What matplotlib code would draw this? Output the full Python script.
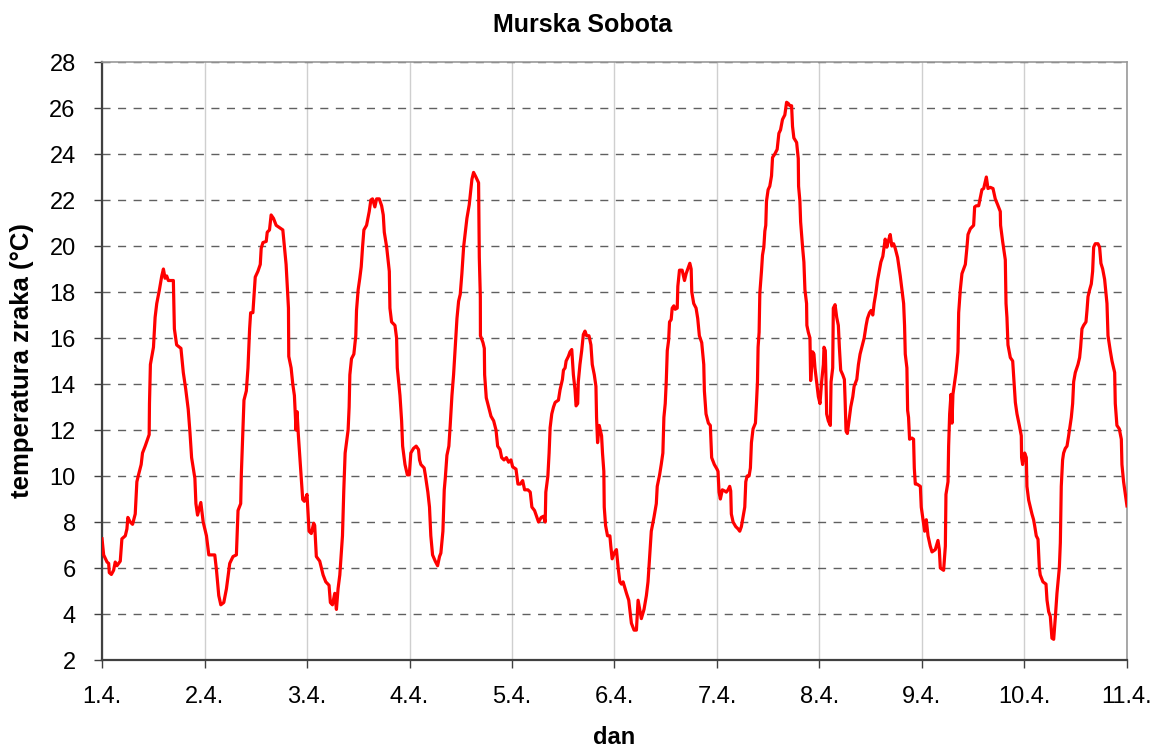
import matplotlib
matplotlib.use("Agg")
import matplotlib.pyplot as plt

# time in days since 1.4. 00:00, temperature in degC
days = [
 0.000,0.016,0.049,0.065,0.071,0.091,0.113,0.129,0.146,0.178,0.194,0.227,0.243,0.252,0.275,0.298,0.324,0.340,0.356,0.382,
 0.395,0.421,0.460,0.463,0.472,0.502,0.518,0.534,0.560,0.583,0.599,0.615,0.631,0.647,0.673,0.696,0.706,0.728,0.770,0.793,
 0.816,0.841,0.858,0.874,0.906,0.916,0.932,0.964,0.987,1.019,1.042,1.068,1.100,1.117,1.139,1.159,1.188,1.214,1.246,1.278,
 1.311,1.327,1.353,1.359,1.375,1.385,1.408,1.424,1.440,1.450,1.472,1.495,1.521,1.544,1.553,1.570,1.602,1.612,1.634,1.650,
 1.673,1.699,1.731,1.764,1.780,1.796,1.819,1.822,1.845,1.861,1.877,1.893,1.903,1.916,1.942,1.958,1.974,2.000,
 2.020,2.042,2.065,2.075,2.091,2.124,2.157,2.183,2.215,2.228,2.248,2.271,2.287,2.303,2.320,2.346,2.359,2.372,2.401,2.411,
 2.418,2.434,2.457,2.476,2.483,2.499,2.515,2.529,2.542,2.555,2.581,2.607,2.623,2.639,2.662,2.679,2.705,2.728,2.744,2.754,
 2.777,2.803,2.809,2.825,2.858,2.874,2.881,2.907,2.923,2.933,2.956,2.979,2.998,3.013,3.039,3.065,3.088,3.098,3.111,3.143,
 3.156,3.179,3.195,3.208,3.225,3.251,3.274,3.293,3.306,3.326,3.339,3.349,3.365,3.384,3.397,3.414,3.430,3.446,3.463,3.479,
 3.495,3.511,3.528,3.544,3.560,3.583,3.599,3.609,3.625,3.648,3.674,3.681,3.691,3.692,3.717,3.730,3.733,3.749,3.772,3.795,
 3.821,3.844,3.860,3.883,3.899,3.922,3.945,3.967,3.990,
 4.006,4.039,4.058,4.081,4.104,4.123,4.155,4.178,4.194,4.220,4.243,4.259,4.285,4.307,4.324,4.330,4.350,4.362,4.372,4.388,
 4.405,4.421,4.453,4.469,4.492,4.502,4.518,4.528,4.550,4.566,4.583,4.599,4.615,4.625,4.641,4.647,4.663,4.680,4.696,4.712,
 4.728,4.751,4.770,4.783,4.803,4.819,4.825,4.835,4.851,4.874,4.883,4.896,4.900,4.913,4.932,4.955,4.964,4.977,5.003,5.019,
 5.036,5.052,5.068,5.084,5.117,5.139,5.165,5.191,5.214,5.230,5.246,5.262,5.288,5.311,5.327,5.343,5.359,5.385,5.408,5.417,
 5.440,5.456,5.472,5.482,5.495,5.505,5.515,5.528,5.537,5.553,5.563,5.579,5.592,5.612,5.618,5.634,5.660,5.683,5.699,5.715,
 5.735,5.748,5.754,5.773,5.796,5.812,5.828,5.851,5.871,5.877,5.893,5.916,5.935,5.948,5.974,6.000,
 6.010,6.020,6.033,6.052,6.075,6.091,6.108,6.124,6.134,6.140,6.157,6.183,6.206,6.222,6.238,6.254,6.271,6.281,6.294,6.313,
 6.326,6.336,6.352,6.375,6.385,6.395,6.401,6.411,6.418,6.434,6.444,6.457,6.467,6.476,6.483,6.499,6.515,6.532,6.542,6.564,
 6.587,6.604,6.620,6.639,6.662,6.679,6.695,6.711,6.728,6.737,6.750,6.777,6.793,6.796,6.809,6.816,6.835,6.848,6.858,6.874,
 6.877,6.891,6.907,6.910,6.914,6.933,6.946,6.956,6.972,6.989,7.005,7.021,7.038,7.044,7.057,7.064,7.070,7.086,7.106,7.113,
 7.129,7.135,7.152,7.168,7.184,7.194,7.207,7.227,7.243,7.250,7.259,7.272,7.292,7.305,7.325,7.338,7.364,7.380,7.396,7.413,
 7.436,7.455,7.468,7.488,7.504,7.520,7.533,7.550,7.566,7.586,7.599,7.618,7.641,7.657,7.674,7.690,7.706,7.723,7.739,7.762,
 7.788,7.804,7.821,7.830,7.837,7.853,7.860,7.869,7.879,7.902,7.918,7.925,7.935,7.951,7.984,7.993,8.007,
 8.026,8.042,8.059,8.081,8.098,8.130,8.156,8.169,8.179,8.211,8.228,8.234,8.254,8.260,8.270,8.283,8.293,8.302,8.319,8.332,
 8.351,8.358,8.374,8.390,8.423,8.439,8.449,8.472,8.504,8.514,8.530,8.553,8.569,8.585,8.602,8.618,8.628,8.644,8.667,8.693,
 8.715,8.738,8.764,8.767,8.787,8.813,8.820,8.829,8.839,8.862,8.885,8.894,8.911,8.927,8.950,8.969,8.972,8.982,9.002,9.018,
 9.024,9.041,9.057,9.073,9.089,9.099,9.115,9.132,9.145,9.154,9.180,9.210,9.220,9.236,9.252,9.268,9.285,9.301,9.317,9.340,
 9.350,9.359,9.372,9.382,9.398,9.415,9.431,9.457,9.470,9.480,9.496,9.522,9.538,9.548,9.561,9.577,9.600,9.610,9.620,9.636,
 9.652,9.665,9.675,9.691,9.717,9.733,9.746,9.763,9.782,9.795,9.805,9.815,9.837,9.854,9.880,9.886,9.902,9.925,9.945,9.951,
 9.967,10.000,
]
temps = [
 7.27,6.57,6.26,6.2,5.8,5.72,5.9,6.26,6.1,6.3,7.27,7.4,7.7,8.2,8.0,7.9,8.35,9.75,10.05,10.5,
 11.0,11.3,11.8,13.15,14.85,15.6,16.9,17.5,18.1,18.7,19.0,18.6,18.7,18.5,18.5,18.5,16.4,15.7,15.55,14.5,
 13.8,12.9,11.9,10.8,9.9,8.8,8.3,8.85,8.0,7.4,6.57,6.57,6.57,5.9,4.8,4.4,4.5,5.1,6.2,6.5,
 6.57,8.5,8.8,10.05,12.05,13.3,13.7,14.7,16.4,17.1,17.1,18.65,18.9,19.2,19.9,20.15,20.2,20.6,20.7,21.35,
 21.2,20.9,20.8,20.7,19.95,19.2,17.3,15.2,14.7,14.0,13.5,12.0,12.8,11.75,10.0,8.98,8.9,9.2,
 7.6,7.5,7.95,7.85,6.5,6.3,5.7,5.4,5.25,4.5,4.4,4.9,4.2,5.1,5.7,7.4,9.4,11.0,12.0,13.0,
 14.4,15.1,15.3,16.1,17.2,18.1,18.6,19.1,19.96,20.7,20.9,21.5,22.0,22.05,21.7,22.05,22.05,21.75,21.35,20.6,
 19.96,18.9,17.3,16.7,16.55,16.0,14.7,13.5,12.4,11.3,10.5,10.05,10.05,11.0,11.2,11.3,11.15,10.7,10.5,10.35,
 10.0,9.3,8.65,7.4,6.57,6.3,6.1,6.5,6.65,7.6,9.4,9.9,10.9,11.3,12.2,13.5,14.4,15.6,16.85,17.6,
 17.9,18.8,19.96,20.6,21.2,21.8,22.45,22.9,23.2,23.0,22.75,19.5,17.8,16.1,15.8,15.55,14.4,13.4,13.0,12.6,
 12.4,12.0,11.3,11.15,10.8,10.7,10.8,10.6,10.7,
 10.4,10.3,9.65,9.65,9.8,9.4,9.4,9.3,8.65,8.5,8.2,8.0,8.2,8.25,8.0,9.3,10.0,11.0,12.1,12.7,
 13.0,13.2,13.3,13.75,14.2,14.6,14.7,15.0,15.2,15.4,15.5,14.4,13.75,13.05,13.15,14.1,14.85,15.45,16.15,16.3,
 16.1,16.1,15.7,14.85,14.4,13.9,12.55,11.45,12.2,11.75,11.0,10.2,8.65,7.85,7.4,7.4,6.95,6.4,6.7,6.8,
 6.0,5.4,5.3,5.4,4.9,4.6,3.6,3.3,3.3,4.6,4.2,3.8,4.2,4.8,5.4,6.5,7.6,8.2,8.8,9.55,
 10.05,10.5,11.0,12.55,13.15,14.1,15.45,15.9,16.7,16.8,17.3,17.4,17.25,17.3,18.25,18.95,18.95,18.5,18.8,19.0,
 19.25,19.0,18.0,17.5,17.3,16.85,16.1,15.8,14.85,13.7,12.7,12.3,12.2,10.8,10.5,10.3,
 10.2,9.3,9.0,9.4,9.35,9.3,9.4,9.55,9.35,8.35,8.0,7.8,7.7,7.6,7.8,8.2,8.65,9.75,10.0,10.0,
 10.35,11.45,12.05,12.3,13.15,14.1,15.6,16.25,17.95,18.9,19.6,19.95,20.65,20.9,21.95,22.45,22.6,23.05,23.85,24.0,
 24.2,24.9,25.05,25.5,25.7,26.25,26.2,26.1,26.1,25.2,24.7,24.5,23.8,22.6,21.95,21.05,19.95,19.3,18.1,17.5,
 16.55,16.25,16.0,15.15,14.15,15.4,15.3,14.7,14.1,13.45,13.15,14.1,14.85,15.6,15.45,14.1,12.7,12.4,12.2,14.1,
 14.7,17.3,17.45,16.9,16.55,15.6,14.6,14.4,14.2,13.3,11.95,11.85,12.55,13.0,13.45,13.9,14.2,14.85,15.3,15.6,
 16.0,16.55,16.85,17.1,17.2,17.0,17.5,17.95,18.5,19.0,19.3,19.55,20.3,19.95,20.25,20.5,20.0,20.1,19.9,19.5,
 18.7,18.1,17.5,16.55,15.3,14.7,12.85,12.55,11.6,11.65,11.6,10.35,9.65,9.65,9.55,8.65,8.2,
 7.6,8.1,7.4,6.95,6.7,6.8,7.2,6.8,6.0,5.9,6.95,9.2,9.75,11.3,12.7,13.55,12.3,13.55,14.1,14.5,
 15.4,17.1,18.1,18.8,19.2,19.95,20.5,20.75,20.9,21.7,21.75,21.75,22.1,22.45,22.5,22.8,23.0,22.5,22.55,22.5,
 22.05,21.8,21.5,20.9,20.2,19.4,17.5,16.9,15.7,15.15,15.0,14.4,13.2,12.7,12.2,11.75,10.8,10.5,11.0,10.8,
 9.55,8.95,8.65,8.35,8.1,7.85,7.4,7.25,6.0,5.7,5.4,5.3,4.6,4.1,3.9,2.95,2.9,3.85,4.9,6.0,
 7.1,9.55,10.7,11.0,11.2,11.3,11.75,12.55,13.15,14.1,14.5,14.85,15.15,15.6,16.4,16.55,16.7,17.2,17.8,18.1,
 18.35,18.9,19.95,20.1,20.1,19.95,19.25,19.0,18.55,17.95,17.5,16.1,15.45,15.0,14.5,13.15,12.2,12.05,11.6,10.5,
 9.75,8.7,
]

day_labels = ["1.4.", "2.4.", "3.4.", "4.4.", "5.4.", "6.4.", "7.4.", "8.4.", "9.4.", "10.4.", "11.4."]
y_ticks = list(range(2, 29, 2))

title = "Murska Sobota"
xlabel = "dan"
ylabel = "temperatura zraka (°C)"

plt.rcParams['font.family'] = ['Liberation Sans', 'DejaVu Sans']

fig = plt.figure(figsize=(11.58, 7.49), dpi=100)
ax = fig.add_axes([0.0881, 0.1188, 0.8851, 0.7984])

ax.plot(days, temps, color="#ff0000", linewidth=2.3, zorder=3)

ax.set_xlim(0, len(day_labels) - 1)
ax.set_ylim(2, 28)
ax.set_xticks(range(len(day_labels)))
ax.set_xticklabels(day_labels)
ax.set_yticks(y_ticks)

ax.yaxis.grid(True, linestyle=(0, (5.8, 5.4)), color="#606060", linewidth=1.0)
ax.xaxis.grid(True, linestyle="-", color="#cfcfcf", linewidth=1.0)
ax.set_axisbelow(True)

for side in ["top", "right"]:
    ax.spines[side].set_color("#999999")
    ax.spines[side].set_linewidth(1.2)
for side in ["left", "bottom"]:
    ax.spines[side].set_color("#404040")
    ax.spines[side].set_linewidth(1.6)

ax.tick_params(axis="both", direction="out", length=6, width=1.0, color="#404040",
               labelsize=17)
ax.tick_params(axis="x", pad=13)
ax.tick_params(axis="y", pad=13)

fig.text(0.503, 0.957, title, fontsize=18, fontweight="bold",
         ha="center", va="baseline")
ax.set_xlabel(xlabel, fontsize=17, fontweight="bold")
ax.set_ylabel(ylabel, fontsize=18.5, fontweight="bold")
ax.xaxis.set_label_coords(0.5, -0.11)
ax.yaxis.set_label_coords(-0.066, 0.5)

fig.savefig("out.png", dpi=100)
